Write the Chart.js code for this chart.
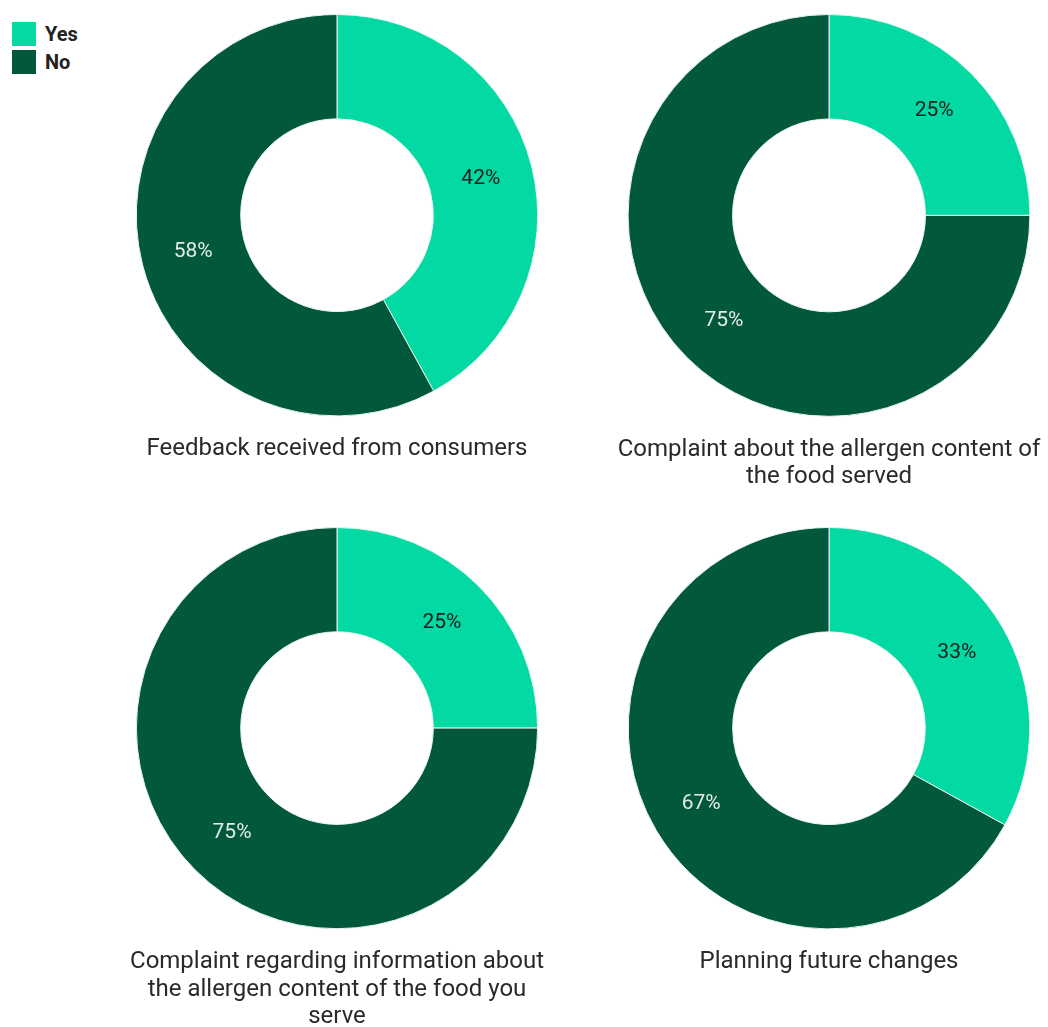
<!DOCTYPE html>
<html>
<head>
<meta charset="utf-8">
<script src="https://cdn.jsdelivr.net/npm/chart.js@4.4.1/dist/chart.umd.min.js"></script>
<style>
    html, body { margin: 0; padding: 0; background: #ffffff; overflow: hidden; }
    body { width: 1048px; height: 1027px; position: relative; font-family: Roboto, sans-serif; }
    canvas { position: absolute; }
    #legend { position: absolute; left: 12px; top: 20px; }
    .legend-item { display: flex; align-items: center; height: 28px; }
    .legend-box { width: 24px; height: 24px; margin-right: 9px; }
    .legend-text { font-size: 20px; font-weight: bold; color: #222222; }
</style>
</head>
<body>
<div id="legend"></div>

<script>
// Survey answers
const answerLabels = ['Yes', 'No'];
const answerColors = ['#02D9A3', '#01583A'];

const chartTitles = [
    ['Feedback received from consumers'],
    ['Complaint about the allergen content of', 'the food served'],
    ['Complaint regarding information about', 'the allergen content of the food you', 'serve'],
    ['Planning future changes']
];
const yesValues = [42, 25, 25, 33];
const noValues = [58, 75, 75, 67];

// canvas slots (left, top) for the 2x2 grid
const slots = [
    { left: 119, top: 14 },
    { left: 611, top: 14 },
    { left: 119, top: 527 },
    { left: 611, top: 527 }
];
const canvasWidth = 436;
const donutSize = 402;
const titlePadTop = 19;
const titleLineHeight = 27.6;

// draws the percentage inside each slice
const sliceLabels = {
    id: 'sliceLabels',
    afterDatasetsDraw(chart) {
        const ctx = chart.ctx;
        const meta = chart.getDatasetMeta(0);
        const data = chart.data.datasets[0].data;
        ctx.save();
        ctx.font = '21px Roboto';
        ctx.textAlign = 'center';
        ctx.textBaseline = 'middle';
        meta.data.forEach((arc, i) => {
            const pos = arc.tooltipPosition();
            ctx.fillStyle = i === 0 ? '#1e1e1e' : '#e4ece8';
            ctx.fillText(data[i] + '%', pos.x, pos.y);
        });
        ctx.restore();
    }
};

function buildLegend() {
    const legend = document.getElementById('legend');
    answerLabels.forEach((label, i) => {
        const item = document.createElement('div');
        item.className = 'legend-item';
        item.innerHTML = '<div class="legend-box" style="background:' + answerColors[i] + '"></div>' +
            '<span class="legend-text">' + label + '</span>';
        legend.appendChild(item);
    });
}

function createDonut(index) {
    const title = chartTitles[index];
    const canvas = document.createElement('canvas');
    const height = Math.ceil(donutSize + titlePadTop + title.length * titleLineHeight);
    canvas.width = canvasWidth;
    canvas.height = height;
    canvas.style.left = slots[index].left + 'px';
    canvas.style.top = slots[index].top + 'px';
    canvas.style.width = canvasWidth + 'px';
    canvas.style.height = height + 'px';
    document.body.appendChild(canvas);

    return new Chart(canvas.getContext('2d'), {
        type: 'doughnut',
        data: {
            labels: answerLabels,
            datasets: [{
                data: [yesValues[index], noValues[index]],
                backgroundColor: answerColors,
                borderColor: '#e8f5ef',
                borderWidth: 1
            }]
        },
        options: {
            responsive: false,
            animation: false,
            cutout: '48%',
            layout: { padding: 0 },
            plugins: {
                legend: { display: false },
                tooltip: { enabled: false },
                title: {
                    display: true,
                    position: 'bottom',
                    text: title,
                    color: '#2a2a2a',
                    font: { family: 'Roboto', size: 24, weight: 'normal', lineHeight: 1.15 },
                    padding: { top: titlePadTop, bottom: 0 }
                }
            }
        },
        plugins: [sliceLabels]
    });
}

buildLegend();
chartTitles.forEach((t, i) => createDonut(i));
</script>
</body>
</html>
